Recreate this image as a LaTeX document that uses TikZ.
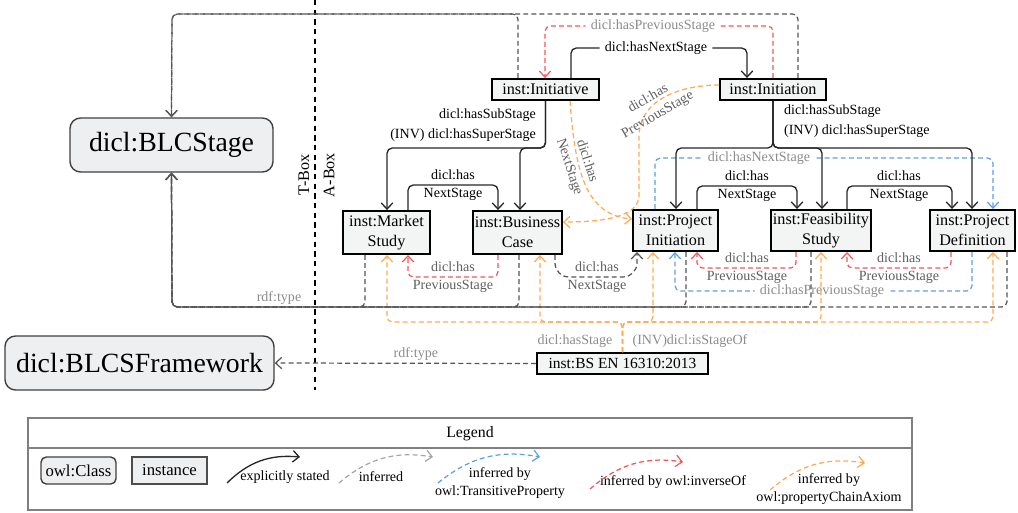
\documentclass[tikz,border=0pt]{standalone}
\usepackage{fontspec}
\setmainfont{Liberation Serif}
\usetikzlibrary{arrows.meta}

\definecolor{invred}{RGB}{240,88,92}
\definecolor{transblue}{RGB}{95,160,225}
\definecolor{chainorange}{RGB}{255,170,80}
\definecolor{infgray}{RGB}{85,85,85}
\definecolor{lblgray}{RGB}{140,140,140}
\definecolor{lbldark}{RGB}{95,95,95}
\definecolor{clsfill}{RGB}{238,239,241}
\definecolor{instfill}{RGB}{243,245,244}

\newcommand{\pxu}{0.02cm}

\begin{document}
\begin{tikzpicture}[
    x=0.02cm, y=-0.02cm,
    >={Straight Barb[length=3.5pt,width=6.5pt]},
    every node/.style={font=\fontsize{8}{10.6}\selectfont, inner sep=1pt},
    cls/.style={draw=black!75, fill=clsfill, rounded corners=6pt, line width=.8pt, font=\fontsize{15.8}{18}\selectfont},
    inst/.style={draw=black, fill=instfill, line width=1.1pt, align=center, font=\fontsize{9.2}{11.2}\selectfont},
    lbl/.style={align=center},
    glbl/.style={align=center, text=lblgray},
    dlbl/.style={align=center, text=lbldark},
    expl/.style={->, draw=black!85, line width=.75pt, rounded corners=3pt},
    infer/.style={->, draw=infgray, line width=.7pt, dash pattern=on 2.8pt off 1.8pt, rounded corners=3pt},
    trans/.style={infer, draw=transblue},
    inv/.style={infer, draw=invred},
    chain/.style={infer, draw=chainorange},
    linfer/.style={infer, draw=black!35},
]
\useasboundingbox (0,0) rectangle (1018,512);

% T-Box | A-Box
\draw[dash pattern=on 3pt off 2.5pt, line width=.7pt] (315,0) -- (315,390);
\node[rotate=90, font=\fontsize{9.2}{11}\selectfont] (tbox) at (304,175) {T-Box};
\node[rotate=90, font=\fontsize{9.2}{11}\selectfont] (abox) at (329,175) {A-Box};

% classes
\node[cls, minimum width=203*\pxu, minimum height=54*\pxu] (stage) at (171.5,145) {dicl:BLCStage};
\node[cls, minimum width=269*\pxu, minimum height=54*\pxu] (framework) at (139.5,363) {dicl:BLCSFramework};

% instances
\node[inst, minimum width=107*\pxu, minimum height=21*\pxu] (initiative) at (545.5,89.5) {inst:Initiative};
\node[inst, minimum width=106*\pxu, minimum height=21*\pxu] (initiation) at (773,89.5) {inst:Initiation};
\node[inst, minimum width=87*\pxu, minimum height=43*\pxu] (mstudy) at (386.5,232.5) {inst:Market\\Study};
\node[inst, minimum width=87*\pxu, minimum height=43*\pxu] (bcase) at (517.5,232.5) {inst:Business\\Case};
\node[inst, minimum width=85*\pxu, minimum height=41*\pxu] (pinit) at (675.5,230.5) {inst:Project\\Initiation};
\node[inst, minimum width=100*\pxu, minimum height=41*\pxu] (fstudy) at (821,230.5) {inst:Feasibility\\Study};
\node[inst, minimum width=85*\pxu, minimum height=41*\pxu] (pdef) at (972.5,230.5) {inst:Project\\Definition};
\node[inst, minimum width=171*\pxu, minimum height=21*\pxu, font=\fontsize{8.8}{10}\selectfont] (bsen) at (622.5,363.5) {inst:BS EN 16310:2013};

% transitive
\draw[trans] (pinit.north -| 655,0) |- (759,158) node[glbl, fill=white, inner xsep=3pt] (tnext) {dicl:hasNextStage} -| (pdef.north -| 993,0);
\draw[trans] (pdef.south -| 972,0) |- (822,291) node[glbl, fill=white, inner xsep=3pt] (tprev) {dicl:hasPreviousStage} -| (pinit.south -| 675,0);

% explicitly stated
\draw[expl] (initiative.north -| 571,0) |- (656,48) node[lbl, fill=white, inner xsep=3pt] (nstop) {dicl:hasNextStage} -| (initiation.north -| 747,0);
\draw[expl] (initiative.south) |- (387,148) -- (mstudy.north -| 387,0);
\draw[expl] (initiative.south) |- (520,148) -- (bcase.north -| 520,0);
\node[lbl, anchor=east, align=right, font=\fontsize{8}{11.3}\selectfont] (subA) at (538,125) {dicl:hasSubStage\\(INV) dicl:hasSuperStage};
\foreach \n/\x in {pinit/676, fstudy/822, pdef/972}
    \draw[expl] (initiation.south) |- (\x,148) -- (\n.north -| \x,0);
\node[lbl, anchor=west, align=left, font=\fontsize{8}{11.3}\selectfont] (subB) at (782,121) {dicl:hasSubStage\\(INV) dicl:hasSuperStage};
\draw[expl] (mstudy.north -| 408,0) |- (453,185) node[lbl] (nsA) {dicl:has\\NextStage} -| (bcase.north -| 498,0);
\draw[expl] (pinit.north -| 697,0) |- (747,186) node[lbl] (nsB) {dicl:has\\NextStage} -| (fstudy.north -| 797,0);
\draw[expl] (fstudy.north -| 847,0) |- (899,186) node[lbl] (nsC) {dicl:has\\NextStage} -| (pdef.north -| 952,0);

% inverseOf
\draw[inv] (initiation.north -| 773,0) |- (653,26) node[glbl, fill=white, inner xsep=3pt] (pstop) {dicl:hasPreviousStage} -| (initiative.north -| 545,0);
\draw[inv] (bcase.south -| 498,0) |- (453,277) node[dlbl] (psA) {dicl:has\\PreviousStage} -| (mstudy.south -| 408,0);
\draw[inv] (fstudy.south -| 796,0) |- (747,268) node[dlbl] (psB) {dicl:has\\PreviousStage} -| (pinit.south -| 697,0);
\draw[inv] (pdef.south -| 951,0) |- (899,268) node[dlbl] (psC) {dicl:has\\PreviousStage} -| (fstudy.south -| 847,0);

% propertyChainAxiom
\draw[chain] (initiative.south -| 570,0) .. controls (575,170) and (585,215) .. (pinit.west |- 0,219);
\node[dlbl, rotate=-72] (nsE) at (578,164) {dicl:has\\NextStage};
\draw[chain] (initiation.west |- 0,85) .. controls (680,85) and (640,100) .. (639,140) -- (639,190) .. controls (639,215) and (610,222) .. (bcase.east |- 0,222);
\node[dlbl, rotate=30] (psD) at (653,107) {dicl:has\\PreviousStage};
\foreach \n/\x in {mstudy/387, bcase/540, pinit/653, fstudy/821, pdef/993}
    \draw[chain] (bsen.north) |- (\x,322) -- (\n.south -| \x,0);
\node[glbl] (hasst) at (575,341) {dicl:hasStage};
\node[glbl] (isst) at (690,341) {(INV)dicl:isStageOf};

% inferred
\draw[infer, rounded corners=8pt] (bcase.south -| 555,0) |- (597,277) node[dlbl] (nsD) {dicl:has\\NextStage} -| (pinit.south -| 637,0);
\foreach \n/\x in {mstudy/365, bcase/519, pinit/686, fstudy/811, pdef/1007}
    \draw[infer] (\n.south -| \x,0) |- (172,307) -- (stage.south);
\node[glbl] (rdfA) at (279,298) {rdf:type};
\foreach \n/\x in {initiative/518, initiation/798}
    \draw[infer] (\n.north -| \x,0) |- (172,14) -- (stage.north);
\draw[infer] (bsen.west) -- (framework.east) node[glbl, pos=.46, above] (rdfB) {rdf:type};

% legend
\draw[black!50, line width=1.1pt] (28,418) rectangle (912,510);
\draw[black!50, line width=1.1pt] (28,448) -- (912,448);
\node[font=\fontsize{9}{11}\selectfont] (legend) at (470,434) {Legend};
\node[cls, rounded corners=3pt, font=\fontsize{9.5}{11}\selectfont, minimum width=75*\pxu, minimum height=27*\pxu] (lcls) at (78.5,470.5) {owl:Class};
\node[draw=black!70, fill=clsfill, line width=.9pt, font=\fontsize{9.5}{11}\selectfont, minimum width=75*\pxu, minimum height=27*\pxu] (linst) at (169.5,470.5) {instance};
\foreach \i/\sty/\xa/\ya/\xb/\yb in {1/expl/227/483/300/457, 2/linfer/339/483/433/457, 3/trans/438/483/540/457, 4/inv/590/489/683/462, 5/chain/770/490/865/463} {
    \coordinate (la\i) at (\xa,\ya);
    \coordinate (lb\i) at (\xb,\yb);
    \draw[\sty] (la\i) to[bend left=25] (lb\i);
}
\node (lexpl) at (285,477) {explicitly stated};
\node (linf) at (381,477) {inferred};
\node[align=center] (ltrans) at (500,483) {inferred by\\owl:TransitiveProperty};
\node (linv) at (673,482) {inferred by owl:inverseOf};
\node[align=center] (lchain) at (829,489) {inferred by\\owl:propertyChainAxiom};

\end{tikzpicture}
\end{document}
